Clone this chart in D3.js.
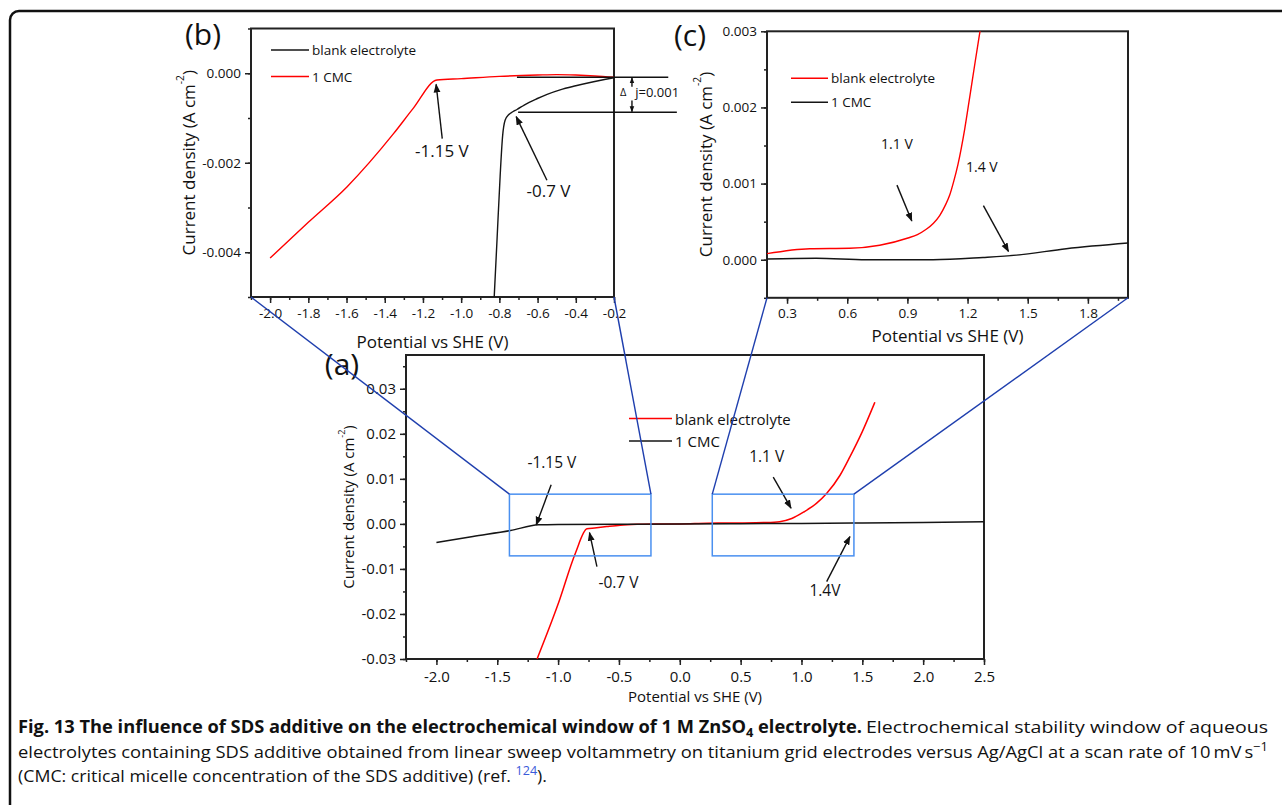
<!DOCTYPE html>
<html>
<head>
<meta charset="utf-8">
<script src="https://cdn.jsdelivr.net/npm/d3@7"></script>
<style>
body { margin: 0; background: #fff; }
svg { display: block; font-family: "Open Sans", sans-serif; }
</style>
</head>
<body>
<div id="chart"></div>
<script>
// series names as written in the legends
var seriesNames = ["blank electrolyte", "1 CMC"];

// panel (b): cathodic side, zoomed  [potential V, current A cm-2]
var bBlank = [[-0.827, -0.0050], [-0.812, -0.0037], [-0.796, -0.0023], [-0.783, -0.0014], [-0.770, -0.00105],
              [-0.750, -0.00092], [-0.730, -0.00086], [-0.708, -0.00081], [-0.670, -0.00071], [-0.604, -0.00057],
              [-0.550, -0.00047], [-0.482, -0.00037], [-0.400, -0.00028], [-0.307, -0.00019], [-0.250, -0.00014],
              [-0.200, -0.00010]];
var bCmc = [[-2.0, -0.00413], [-1.8, -0.00333], [-1.598, -0.00254], [-1.354, -0.00135], [-1.25, -0.00078],
            [-1.127, -0.00015], [-1.0, -0.00012], [-0.8, -0.00007], [-0.6, -0.00004], [-0.5, -0.00003],
            [-0.4, -0.00004], [-0.3, -0.00006], [-0.2, -0.00009]];
var bXTicks = [-2.0, -1.8, -1.6, -1.4, -1.2, -1.0, -0.8, -0.6, -0.4, -0.2];
var bYTicks = [0, -0.002, -0.004];

// panel (c): anodic side, zoomed
var cBlank = [[0.2, 0.00008], [0.413, 0.000145], [0.612, 0.00015], [0.762, 0.00019], [0.903, 0.000285],
              [0.95, 0.00033], [0.994, 0.00040], [1.03, 0.00048], [1.061, 0.00058], [1.09, 0.00072],
              [1.111, 0.00085], [1.13, 0.00102], [1.152, 0.00125], [1.186, 0.00172], [1.211, 0.00214],
              [1.238, 0.00260], [1.262, 0.00300], [1.28, 0.00330]];
var cCmc = [[0.2, 0.00001], [0.446, 0.00002], [0.695, 0.0], [1.028, 0.0], [1.277, 0.00003],
            [1.443, 0.00006], [1.692, 0.000145], [2.0, 0.00022]];
var cXTicks = [0.3, 0.6, 0.9, 1.2, 1.5, 1.8];
var cYTicks = [0, 0.001, 0.002, 0.003];

// panel (a): full window
var aBlank = [[-1.173, -0.030], [-1.0, -0.0178], [-0.858, -0.0065], [-0.763, -0.0011], [-0.70, -0.0009],
              [-0.60, -0.0006], [-0.489, -0.0003], [-0.35, -0.0001], [-0.2, 0.0], [0.0, 0.0], [0.22, 0.00015],
              [0.5, 0.0002], [0.69, 0.0003], [0.82, 0.0005], [0.92, 0.0012], [1.016, 0.0026], [1.125, 0.0046],
              [1.208, 0.0068], [1.317, 0.0108], [1.40, 0.0150], [1.50, 0.0205], [1.603, 0.027]];
var aCmc = [[-2.0, -0.00415], [-1.7, -0.0028], [-1.392, -0.00148], [-1.16, -0.0002], [-1.0, -0.00012],
            [-0.5, -0.00007], [0.0, 0.0], [0.5, 0.00005], [1.0, 0.0001], [1.5, 0.0002], [2.0, 0.0003], [2.5, 0.0005]];
var aXTicks = [-2.0, -1.5, -1.0, -0.5, 0.0, 0.5, 1.0, 1.5, 2.0, 2.5];
var aYTicks = [-0.03, -0.02, -0.01, 0, 0.01, 0.02, 0.03];
// zoom windows marked in (a): [x0, x1, y0, y1]
var aZoomBoxes = [[-1.4, -0.237, -0.0071, 0.0066], [0.267, 1.431, -0.0071, 0.0066]];

var RED = "#ff0000", BLACK = "#151515";

var svg = d3.select("#chart").append("svg").attr("width", 1282).attr("height", 805);
var defs = svg.append("defs");

function addMarker(id, size) {
    defs.append("marker").attr("id", id).attr("viewBox", "0 0 10 10")
        .attr("refX", 9).attr("refY", 5).attr("markerUnits", "userSpaceOnUse")
        .attr("markerWidth", size).attr("markerHeight", size).attr("orient", "auto")
        .append("path").attr("d", "M0,1.2L10,5L0,8.8Z").attr("fill", "#111");
}
addMarker("arrow", 9);
addMarker("arrowSmall", 6);

// figure frame
svg.append("rect").attr("x", 10).attr("y", 11).attr("width", 1300).attr("height", 830)
    .attr("rx", 9).attr("fill", "none").attr("stroke", "#111").attr("stroke-width", 2.5);

function yLabel(sel, size) {
    sel.append("tspan").text("Current density (A cm");
    sel.append("tspan").attr("font-size", size * 0.6).attr("dy", -size * 0.45).text("-2");
    sel.append("tspan").attr("dy", size * 0.45).text(")");
}

function drawPanel(p) {
    var g = svg.append("g").attr("transform", "translate(" + p.left + "," + p.top + ")");
    var x = d3.scaleLinear().domain(p.xDomain).range([0, p.w]);
    var y = d3.scaleLinear().domain(p.yDomain).range([p.h, 0]);

    defs.append("clipPath").attr("id", "clip-" + p.id)
        .append("rect").attr("width", p.w).attr("height", p.h);

    //minor ticks first, majors on top
    g.append("g").attr("class", "axis").attr("transform", "translate(0," + p.h + ")")
        .call(d3.axisBottom(x).tickValues(p.xMinor).tickSize(3).tickFormat(""));
    g.append("g").attr("class", "axis")
        .call(d3.axisLeft(y).tickValues(p.yMinor).tickSize(3).tickFormat(""));
    g.append("g").attr("class", "axis").attr("transform", "translate(0," + p.h + ")")
        .call(d3.axisBottom(x).tickValues(p.xTicks).tickSize(6).tickPadding(p.xPad).tickFormat(p.xFmt));
    g.append("g").attr("class", "axis")
        .call(d3.axisLeft(y).tickValues(p.yTicks).tickSize(6).tickPadding(p.yPad).tickFormat(p.yFmt));

    g.selectAll(".axis").attr("font-family", null).attr("font-size", p.tickFont);
    g.selectAll(".axis .domain").remove();
    g.selectAll(".axis line").attr("stroke", "#222").attr("stroke-width", 1.5);
    g.selectAll(".axis text").attr("fill", "#111");

    g.append("rect").attr("width", p.w).attr("height", p.h)
        .attr("fill", "none").attr("stroke", "#222").attr("stroke-width", 2);

    var line = d3.line().x(function (d) { return x(d[0]); }).y(function (d) { return y(d[1]); })
        .curve(d3.curveMonotoneX);

    p.series.forEach(function (s) {
        g.append("path").datum(s.data).attr("clip-path", "url(#clip-" + p.id + ")")
            .attr("fill", "none").attr("stroke", s.color).attr("stroke-width", p.lineWidth)
            .attr("stroke-linejoin", "round").attr("d", line);
    });

    //axis titles
    g.append("text").attr("x", p.w / 2).attr("y", p.h + p.xTitleY).attr("text-anchor", "middle")
        .attr("font-size", p.titleFont).attr("fill", "#111").text("Potential vs SHE (V)");
    g.append("text").attr("transform", "translate(" + p.yTitleX + "," + (p.h / 2) + ") rotate(-90)")
        .attr("text-anchor", "middle").attr("dominant-baseline", "central")
        .attr("font-size", p.titleFont).attr("fill", "#111").call(yLabel, p.titleFont);

    //legend
    var lg = p.legend;
    p.series.forEach(function (s, i) {
        var ly = lg.y + i * lg.dy;
        g.append("line").attr("x1", lg.x).attr("x2", lg.x + lg.len).attr("y1", ly).attr("y2", ly)
            .attr("stroke", s.color).attr("stroke-width", 1.6);
        g.append("text").attr("x", lg.x + lg.len + 3).attr("y", ly).attr("dominant-baseline", "central")
            .attr("font-size", lg.font).attr("fill", "#111").text(s.name);
    });

    //panel letter
    svg.append("text").attr("x", p.tag[0]).attr("y", p.tag[1]).attr("text-anchor", "middle")
        .attr("font-size", 30).attr("fill", "#111").text(p.tag[2]);

    return { g: g, x: x, y: y, p: p };
}

function fixed(n) { return function (d) { return d.toFixed(n); }; }

function arrow(pan, from, to, marker) {
    pan.g.append("line").attr("x1", pan.x(from[0])).attr("y1", pan.y(from[1]))
        .attr("x2", pan.x(to[0])).attr("y2", pan.y(to[1]))
        .attr("stroke", "#111").attr("stroke-width", 1.4)
        .attr("marker-end", "url(#" + (marker || "arrow") + ")");
}
function note(pan, xv, yv, txt, size, anchor) {
    pan.g.append("text").attr("x", pan.x(xv)).attr("y", pan.y(yv))
        .attr("text-anchor", anchor || "middle").attr("dominant-baseline", "central")
        .attr("font-size", size).attr("fill", "#111").text(txt);
}
function page(pan, xv, yv) { return [pan.p.left + pan.x(xv), pan.p.top + pan.y(yv)]; }

// ---- panel (b)
var panB = drawPanel({
    id: "b", left: 251, top: 28.5, w: 363, h: 268.5,
    xDomain: [-2.1, -0.2], yDomain: [-0.005, 0.001],
    xTicks: bXTicks, yTicks: bYTicks,
    xMinor: d3.range(-2.1, -0.15, 0.1), yMinor: d3.range(-0.005, 0.0015, 0.001),
    xFmt: fixed(1), yFmt: fixed(3), xPad: 5, yPad: 4, tickFont: 13.5,
    titleFont: 17, xTitleY: 51, yTitleX: -63, lineWidth: 1.4,
    series: [{ name: seriesNames[0], color: BLACK, data: bBlank }, { name: seriesNames[1], color: RED, data: bCmc }],
    legend: { x: 20, y: 21.5, dy: 26.5, len: 38, font: 13.5 },
    tag: [203, 45, "(b)"]
});
note(panB, -1.101, -0.00172, "-1.15 V", 17);
arrow(panB, [-1.099, -0.00146], [-1.131, -0.00025]);
note(panB, -0.543, -0.00261, "-0.7 V", 17);
arrow(panB, [-0.551, -0.00239], [-0.712, -0.00097]);
// delta j reference lines
[[-0.708, 0.084, -0.00009], [-0.702, 0.129, -0.00087]].forEach(function (r) {
    panB.g.append("line").attr("x1", panB.x(r[0])).attr("x2", panB.x(r[1]))
        .attr("y1", panB.y(r[2])).attr("y2", panB.y(r[2])).attr("stroke", "#111").attr("stroke-width", 1.4);
});
arrow(panB, [-0.106, -0.0003], [-0.106, -0.00010], "arrowSmall");
arrow(panB, [-0.106, -0.00061], [-0.106, -0.00086], "arrowSmall");
note(panB, -0.152, -0.00041, "\u0394", 11);
note(panB, -0.089, -0.00041, "j=0.001", 13, "start");

// ---- panel (c)
var panC = drawPanel({
    id: "c", left: 767, top: 31.3, w: 361, h: 266.5,
    xDomain: [0.2, 2.0], yDomain: [-0.0005, 0.003],
    xTicks: cXTicks, yTicks: cYTicks,
    xMinor: d3.range(0.15, 2.01, 0.15).filter(function (v) { return v >= 0.2; }),
    yMinor: d3.range(-0.0005, 0.0031, 0.0005),
    xFmt: fixed(1), yFmt: fixed(3), xPad: 5, yPad: 4, tickFont: 13.5,
    titleFont: 17, xTitleY: 44, yTitleX: -62, lineWidth: 1.4,
    series: [{ name: seriesNames[0], color: RED, data: cBlank }, { name: seriesNames[1], color: BLACK, data: cCmc }],
    legend: { x: 24, y: 47, dy: 24, len: 37, font: 13.5 },
    tag: [690, 46, "(c)"]
});
note(panC, 0.848, 0.00153, "1.1 V", 14);
arrow(panC, [0.848, 0.00098], [0.922, 0.00051]);
note(panC, 1.271, 0.00123, "1.4 V", 14);
arrow(panC, [1.279, 0.00071], [1.404, 0.00011]);

// ---- panel (a)
var panA = drawPanel({
    id: "a", left: 406, top: 355, w: 578, h: 304,
    xDomain: [-2.25, 2.5], yDomain: [-0.03, 0.0375],
    xTicks: aXTicks, yTicks: aYTicks,
    xMinor: d3.range(-2.25, 2.51, 0.25), yMinor: d3.range(-0.03, 0.0376, 0.005),
    xFmt: fixed(1), yFmt: fixed(2), xPad: 6, yPad: 4, tickFont: 15,
    titleFont: 15, xTitleY: 43, yTitleX: -58, lineWidth: 1.5,
    series: [{ name: seriesNames[0], color: RED, data: aBlank }, { name: seriesNames[1], color: BLACK, data: aCmc }],
    legend: { x: 223, y: 63.5, dy: 22.5, len: 43, font: 15 },
    tag: [342, 375, "(a)"]
});
note(panA, -1.051, 0.01384, "-1.15 V", 15.5);
arrow(panA, [-1.057, 0.00867], [-1.18, -0.0002]);
note(panA, -0.504, -0.01296, "-0.7 V", 15.5);
arrow(panA, [-0.681, -0.00949], [-0.742, -0.00193]);
note(panA, 0.714, 0.01518, "1.1 V", 15.5);
arrow(panA, [0.768, 0.01038], [0.914, 0.00349]);
note(panA, 1.193, -0.01467, "1.4V", 15.5);
arrow(panA, [1.207, -0.01282], [1.398, -0.00282]);

// zoom boxes in (a) and connectors to (b), (c)
aZoomBoxes.forEach(function (bx) {
    panA.g.append("rect").attr("x", panA.x(bx[0])).attr("y", panA.y(bx[3]))
        .attr("width", panA.x(bx[1]) - panA.x(bx[0])).attr("height", panA.y(bx[2]) - panA.y(bx[3]))
        .attr("fill", "none").attr("stroke", "#4a90f0").attr("stroke-width", 1.5);
});
var connectors = [
    [page(panB, -2.1, -0.005), page(panA, aZoomBoxes[0][0], aZoomBoxes[0][3])],
    [page(panB, -0.2, -0.005), page(panA, aZoomBoxes[0][1], aZoomBoxes[0][3])],
    [page(panC, 0.2, -0.0005), page(panA, aZoomBoxes[1][0], aZoomBoxes[1][3])],
    [page(panC, 2.0, -0.0005), page(panA, aZoomBoxes[1][1], aZoomBoxes[1][3])]
];
connectors.forEach(function (c) {
    svg.append("line").attr("x1", c[0][0]).attr("y1", c[0][1]).attr("x2", c[1][0]).attr("y2", c[1][1])
        .attr("stroke", "#1f3fae").attr("stroke-width", 1.4);
});

// ---- caption
var cap = svg.append("g").attr("font-size", 17).attr("fill", "#111").style("white-space", "pre");
var t1 = cap.append("text").attr("x", 18).attr("y", 733).attr("font-weight", "bold")
    .attr("textLength", 844).attr("lengthAdjust", "spacingAndGlyphs");
t1.append("tspan").text("Fig. 13 The influence of SDS additive on the electrochemical window of 1 M ZnSO");
t1.append("tspan").attr("font-size", 12).attr("dy", 4).text("4");
t1.append("tspan").attr("dy", -4).text(" electrolyte.");
cap.append("text").attr("x", 866).attr("y", 733).attr("textLength", 402).attr("lengthAdjust", "spacingAndGlyphs")
    .text("Electrochemical stability window of aqueous");
var t2 = cap.append("text").attr("x", 18).attr("y", 758).attr("textLength", 1250).attr("lengthAdjust", "spacingAndGlyphs");
t2.append("tspan").text("electrolytes containing SDS additive obtained from linear sweep voltammetry on titanium grid electrodes versus Ag/AgCl at a scan rate of 10\u2009mV\u2009s");
t2.append("tspan").attr("font-size", 12).attr("dy", -7).text("\u22121");
var t3 = cap.append("text").attr("x", 18).attr("y", 782).attr("textLength", 529).attr("lengthAdjust", "spacingAndGlyphs");
t3.append("tspan").text("(CMC: critical micelle concentration of the SDS additive) (ref. ");
t3.append("tspan").attr("font-size", 12).attr("dy", -7).attr("fill", "#3a5bd9").text("124");
t3.append("tspan").attr("dy", 7).text(").");
</script>
</body>
</html>
